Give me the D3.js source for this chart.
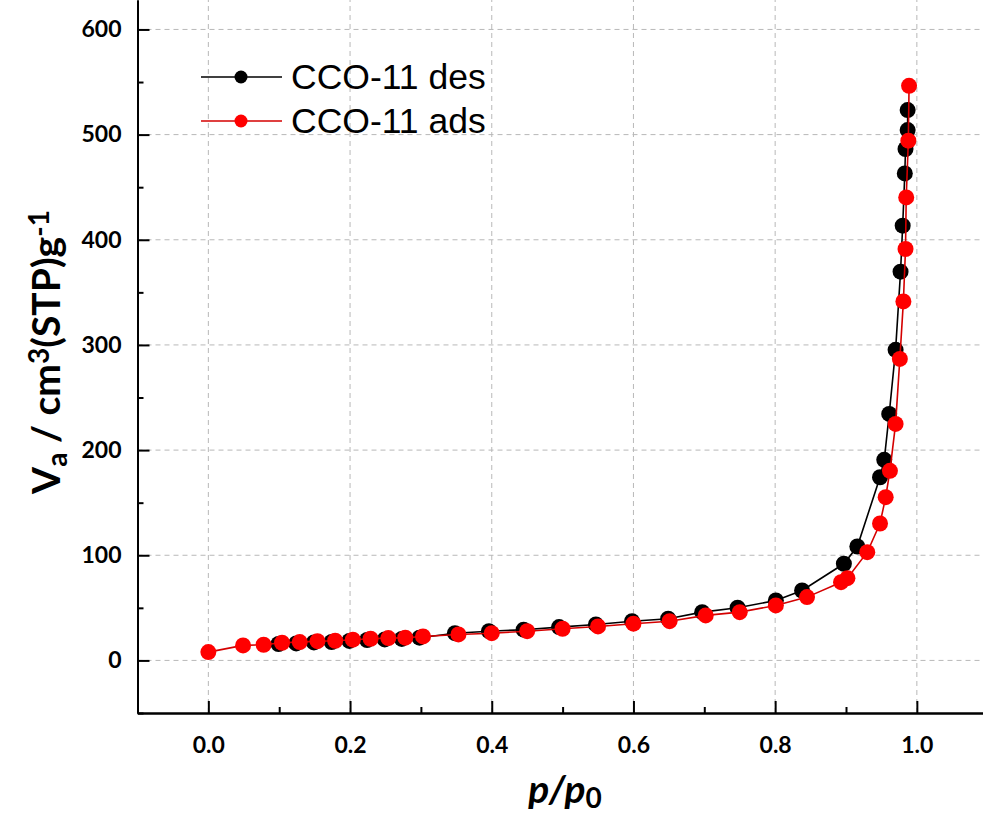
<!DOCTYPE html>
<html>
<head>
<meta charset="utf-8">
<script src="https://cdn.jsdelivr.net/npm/d3@7"></script>
<style>
  html, body { margin: 0; padding: 0; background: #fff; }
  svg { display: block; }
</style>
</head>
<body>
<svg id="chart" width="983" height="821"></svg>
<script>
// ---- data ----
const desX = [0.099,0.124,0.149,0.174,0.199,0.224,0.249,0.273,0.298,0.348,0.396,0.445,0.495,0.547,0.598,0.649,0.697,0.747,0.801,0.838,0.897,0.916,0.948,0.954,0.961,0.970,0.977,0.980,0.983,0.984,0.987,0.987];
const desY = [15.6,16.2,17.1,17.5,18.5,19.4,20.0,20.4,21.6,25.9,27.8,29.2,31.7,34.2,37.3,39.6,45.9,50.1,57.0,66.5,91.9,108.3,174.2,190.7,234.4,295.3,369.7,413.4,463.1,486.3,504.3,523.3];
const adsX = [0.000,0.049,0.078,0.104,0.129,0.154,0.179,0.204,0.229,0.254,0.278,0.303,0.353,0.400,0.450,0.500,0.550,0.600,0.651,0.702,0.750,0.801,0.845,0.893,0.902,0.930,0.948,0.956,0.962,0.970,0.976,0.981,0.984,0.985,0.988,0.989];
const adsY = [7.9,14.3,14.9,16.8,17.4,18.3,18.7,19.7,20.6,21.2,21.6,22.8,24.7,25.9,27.8,30.1,32.3,34.9,37.3,42.8,45.9,52.3,60.2,74.4,78.2,102.9,130.2,155.2,180.3,224.9,286.7,341.4,391.2,440.3,494.2,546.4];
const seriesNames = ["CCO-11 des", "CCO-11 ads"];
const xTicks = [0.0, 0.2, 0.4, 0.6, 0.8, 1.0];
const xMinorTicks = [-0.1, 0.1, 0.3, 0.5, 0.7, 0.9, 1.1];
const yTicks = [0, 100, 200, 300, 400, 500, 600];
const yMinorTicks = [-50, 50, 150, 250, 350, 450, 550];

// ---- layout ----
const svg = d3.select("#chart");
const x = d3.scaleLinear().domain([-0.1, 1.1]).range([137.5, 987.7]);
const y = d3.scaleLinear().domain([-50, 628]).range([713, 0]);
const tickFont = "Lato, 'Open Sans', sans-serif";

// gridlines
const grid = svg.append("g").attr("stroke", "#b8b8b8").attr("stroke-width", 1).attr("stroke-dasharray", "5,4");
grid.selectAll("line.gx").data(xTicks).join("line").attr("class","gx")
  .attr("x1", d => x(d)).attr("x2", d => x(d)).attr("y1", y(-50)).attr("y2", 0);
grid.selectAll("line.gy").data(yTicks).join("line").attr("class","gy")
  .attr("x1", x(-0.1)).attr("x2", 983).attr("y1", d => y(d)).attr("y2", d => y(d));

// axes
const xAxis = svg.append("g").attr("transform", `translate(0,${y(-50)})`)
  .call(d3.axisBottom(x).tickValues(xTicks).tickFormat(d3.format(".1f")).tickSizeInner(-12).tickSizeOuter(0).tickPadding(24));
const xMinor = svg.append("g").attr("transform", `translate(0,${y(-50)})`)
  .call(d3.axisBottom(x).tickValues(xMinorTicks).tickFormat("").tickSizeInner(-6).tickSizeOuter(0));
const yAxis = svg.append("g").attr("transform", `translate(${x(-0.1)},0)`)
  .call(d3.axisLeft(y).tickValues(yTicks).tickFormat(d3.format("d")).tickSizeInner(-12).tickSizeOuter(0).tickPadding(16));
const yMinor = svg.append("g").attr("transform", `translate(${x(-0.1)},0)`)
  .call(d3.axisLeft(y).tickValues(yMinorTicks).tickFormat("").tickSizeInner(-6).tickSizeOuter(0));
[xAxis, xMinor, yAxis, yMinor].forEach(g => {
  g.selectAll(".domain").attr("stroke", "#000").attr("stroke-width", 2);
  g.selectAll(".tick line").attr("stroke", "#000").attr("stroke-width", 2);
  g.selectAll(".tick text").attr("fill", "#000").style("font-family", tickFont)
    .style("font-weight", "700").style("font-size", "23px");
});

// series
const des = desX.map((v, i) => [v, desY[i]]);
const ads = adsX.map((v, i) => [v, adsY[i]]);
const line = d3.line().x(d => x(d[0])).y(d => y(d[1]));
const series = [
  { data: des, line: "#000000", fill: "#000000" },
  { data: ads, line: "#d40000", fill: "#ff0000" }
];
series.forEach(s => {
  svg.append("path").datum(s.data).attr("d", line).attr("fill", "none")
    .attr("stroke", s.line).attr("stroke-width", 1.6);
  svg.append("g").selectAll("circle").data(s.data).join("circle")
    .attr("cx", d => x(d[0])).attr("cy", d => y(d[1])).attr("r", 8).attr("fill", s.fill);
});

// legend
const legend = svg.append("g");
seriesNames.forEach((name, i) => {
  const ly = 77 + i * 44;
  legend.append("line").attr("x1", 201).attr("x2", 282).attr("y1", ly).attr("y2", ly)
    .attr("stroke", series[i].line).attr("stroke-width", 1.6);
  legend.append("circle").attr("cx", 241).attr("cy", ly).attr("r", 6.5).attr("fill", series[i].fill);
  legend.append("text").attr("x", 291).attr("y", ly + 12).text(name)
    .style("font-family", "'Liberation Sans', Arial, sans-serif").style("font-size", "35.5px").attr("fill", "#000");
});

// axis titles
const yt = svg.append("text").attr("transform", "translate(60,352) rotate(-90)")
  .attr("text-anchor", "middle").attr("fill", "#000")
  .style("font-family", tickFont).style("font-weight", "700").style("font-size", "39px");
yt.append("tspan").text("V");
yt.append("tspan").text("a").attr("baseline-shift", "-25%").style("font-size", "28px");
yt.append("tspan").text(" / cm");
yt.append("tspan").text("3").attr("baseline-shift", "40%").style("font-size", "28px");
yt.append("tspan").text("(STP)g");
yt.append("tspan").text("-1").attr("baseline-shift", "40%").style("font-size", "28px");

const xt = svg.append("text").attr("x", 565).attr("y", 803)
  .attr("text-anchor", "middle").attr("fill", "#000")
  .style("font-family", tickFont).style("font-weight", "700").style("font-style", "italic").style("font-size", "39px");
xt.append("tspan").text("p/p");
xt.append("tspan").text("0").attr("baseline-shift", "-18%").style("font-size", "28px").style("font-style", "normal");
</script>
</body>
</html>
